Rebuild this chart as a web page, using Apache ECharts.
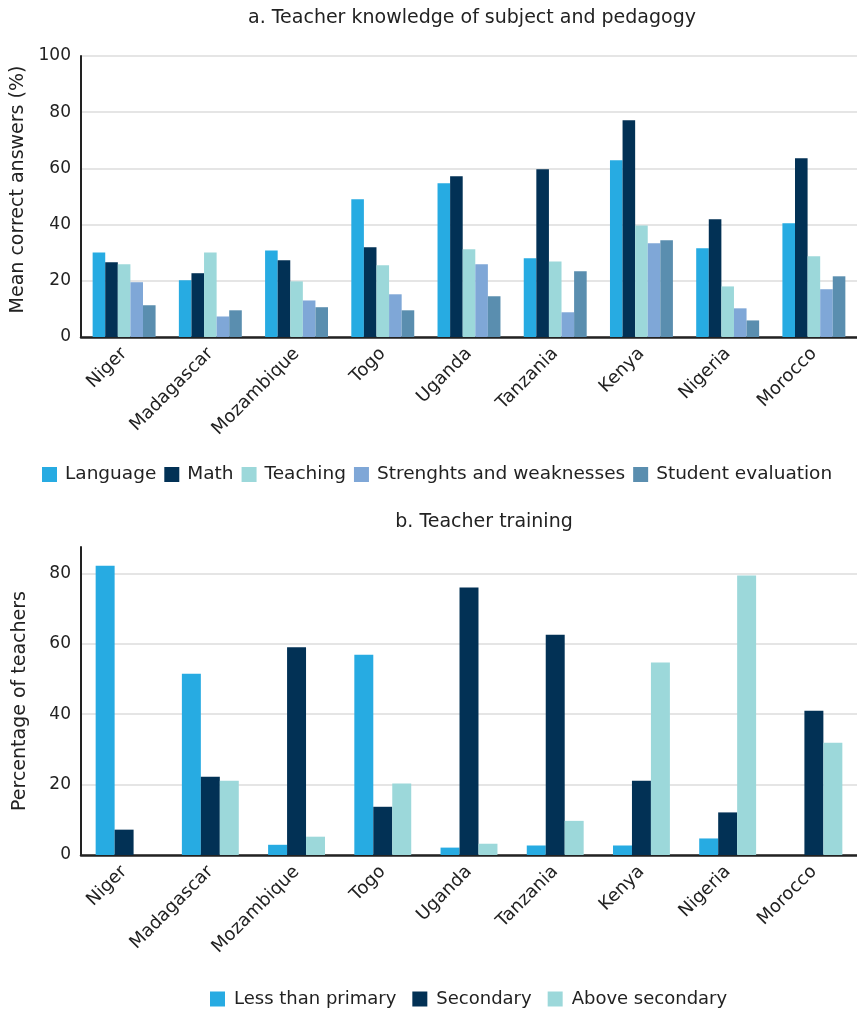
<!DOCTYPE html>
<html>
<head>
<meta charset="utf-8">
<script src="https://cdn.jsdelivr.net/npm/echarts@6/dist/echarts.min.js"></script>
<style>html,body{margin:0;padding:0;background:#fff;}#c{width:857px;height:1009px;}</style>
</head>
<body>
<div id="c"></div>
<script>
const countries = ['Niger','Madagascar','Mozambique','Togo','Uganda','Tanzania','Kenya','Nigeria','Morocco'];
// Panel a
const language = [30.1, 20.2, 30.8, 49.0, 54.7, 28.0, 62.9, 31.6, 40.5];
const math = [26.6, 22.7, 27.3, 31.9, 57.2, 59.7, 77.1, 41.9, 63.6];
const teaching = [25.9, 30.1, 19.8, 25.5, 31.2, 26.9, 39.7, 18.0, 28.7];
const strengths = [19.5, 7.3, 13.0, 15.2, 25.9, 8.8, 33.4, 10.2, 17.0];
const studentEval = [11.3, 9.5, 10.6, 9.5, 14.5, 23.4, 34.4, 5.9, 21.6];
// Panel b
const lessPrimary = [82.2, 51.5, 2.9, 56.9, 2.1, 2.7, 2.7, 4.7, 0];
const secondary = [7.2, 22.2, 59.0, 13.7, 76.0, 62.6, 21.1, 12.1, 41.0];
const aboveSecondary = [0, 21.1, 5.2, 20.3, 3.2, 9.7, 54.7, 79.4, 31.9];

const C = {lang:'#27ABE2', math:'#023155', teach:'#9CD8DA', sw:'#7FA7D7', se:'#5A8EAF'};
const font = 'DejaVu Sans';
const txt = '#222';

const chart = echarts.init(document.getElementById('c'));
const xAxisCommon = {
  type:'category', data: countries,
  axisLine:{lineStyle:{color:'#222', width:2.5}},
  axisTick:{show:false},
  axisLabel:{rotate:45, color:txt, fontSize:18, fontFamily:font, margin:14, interval:0}
};
const yAxisCommon = {
  type:'value',
  axisLine:{show:true, lineStyle:{color:'#222', width:2}},
  axisTick:{show:false},
  splitLine:{lineStyle:{color:'#ddd', width:1.5}},
  axisLabel:{color:txt, fontSize:17, fontFamily:font, margin:10},
  nameLocation:'middle', nameRotate:90,
  nameTextStyle:{color:txt, fontSize:19, fontFamily:font}
};
chart.setOption({
  animation:false,
  title:[
    {text:'a. Teacher knowledge of subject and pedagogy', left:467, top:4, textAlign:'center',
     textStyle:{color:txt, fontSize:19, fontWeight:'normal', fontFamily:font}},
    {text:'b. Teacher training', left:479, top:508, textAlign:'center',
     textStyle:{color:txt, fontSize:19, fontWeight:'normal', fontFamily:font}}
  ],
  legend:[
    {data:['Language','Math','Teaching','Strenghts and weaknesses','Student evaluation'],
     left:42, top:465, width:1000, padding:0, itemWidth:15, itemHeight:15, itemGap:8, icon:'rect',
     textStyle:{color:txt, fontSize:18.5, fontFamily:font, padding:[0,0,0,3]}},
    {data:['Less than primary','Secondary','Above secondary'],
     left:210, top:990, width:1000, padding:0, itemWidth:15, itemHeight:15, itemGap:16, icon:'rect',
     textStyle:{color:txt, fontSize:18, fontFamily:font, padding:[0,0,0,4]}}
  ],
  grid:[
    {left:81, right:0, top:56, height:281, containLabel:false},
    {left:81, right:0, top:547, height:308, containLabel:false}
  ],
  xAxis:[
    Object.assign({gridIndex:0}, xAxisCommon),
    Object.assign({gridIndex:1}, xAxisCommon)
  ],
  yAxis:[
    Object.assign({}, yAxisCommon, {gridIndex:0, min:0, max:100, interval:20, name:'Mean correct answers (%)', nameGap:51,
      nameTextStyle:{color:txt, fontSize:19, fontFamily:font, padding:[0,0,0,14]}}),
    Object.assign({}, yAxisCommon, {gridIndex:1, min:0, max:87.5, interval:20, name:'Percentage of teachers', nameGap:51,
      axisLabel:Object.assign({}, yAxisCommon.axisLabel, {showMaxLabel:false}),
      splitLine:{showMaxLine:false, lineStyle:{color:'#ddd', width:1.5}}})
  ],
  series:[
    {name:'Language', type:'bar', xAxisIndex:0, yAxisIndex:0, data:language, itemStyle:{color:C.lang}, barGap:'0%', barCategoryGap:'27%'},
    {name:'Math', type:'bar', xAxisIndex:0, yAxisIndex:0, data:math, itemStyle:{color:C.math}},
    {name:'Teaching', type:'bar', xAxisIndex:0, yAxisIndex:0, data:teaching, itemStyle:{color:C.teach}},
    {name:'Strenghts and weaknesses', type:'bar', xAxisIndex:0, yAxisIndex:0, data:strengths, itemStyle:{color:C.sw}},
    {name:'Student evaluation', type:'bar', xAxisIndex:0, yAxisIndex:0, data:studentEval, itemStyle:{color:C.se}},
    {name:'Less than primary', type:'bar', xAxisIndex:1, yAxisIndex:1, data:lessPrimary, itemStyle:{color:C.lang}, barGap:'0%', barCategoryGap:'34%'},
    {name:'Secondary', type:'bar', xAxisIndex:1, yAxisIndex:1, data:secondary, itemStyle:{color:C.math}},
    {name:'Above secondary', type:'bar', xAxisIndex:1, yAxisIndex:1, data:aboveSecondary, itemStyle:{color:C.teach}}
  ]
});
</script>
</body>
</html>
